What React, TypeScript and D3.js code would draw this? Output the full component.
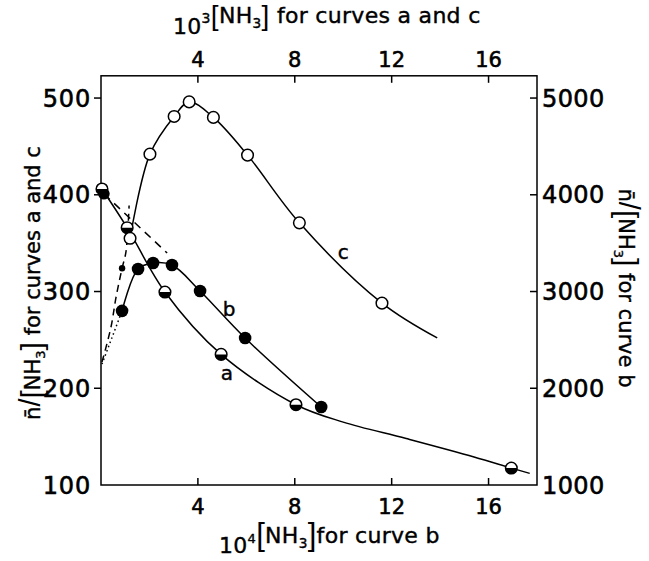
import React from 'react';
import * as d3 from 'd3';

const W = 649;
const H = 561;

// tick values
const topTicks = [4, 8, 12, 16];
const bottomTicks = [4, 8, 12, 16];
const leftTicks = [200, 300, 400, 500];
const leftLabels = [100, 200, 300, 400, 500];
const rightTicks = [2000, 3000, 4000, 5000];
const rightLabels = [1000, 2000, 3000, 4000, 5000];

// curve a (half-filled circles): x = 10^3[NH3], y = n/[NH3] (left axis)
const aPoints: [number, number][] = [
  [0.04, 406], [1.08, 366], [2.64, 299.5], [4.96, 235], [8.05, 183], [16.94, 117.5],
];
const aCurve: [number, number][] = [
  [0.04, 406], [1.08, 366], [2.64, 299.5], [4.96, 235], [8.05, 183],
  [10.0, 165], [12.6, 148], [15.4, 129], [16.94, 117.5], [17.7, 112],
];

// curve c (open circles): x = 10^3[NH3], y = n/[NH3] (left axis)
const cPoints: [number, number][] = [
  [1.2, 355], [2.02, 442], [3.02, 481], [3.64, 496], [4.64, 480],
  [6.05, 441], [8.19, 371], [11.6, 288],
];
const cCurve: [number, number][] = [
  [1.2, 355], [2.02, 442], [3.02, 481], [3.64, 496], [4.64, 480],
  [6.05, 441], [8.19, 371], [11.6, 288], [13.88, 252],
];
// dashed extrapolation near origin (left-axis scale)
const cDashed: [number, number][] = [
  [0.04, 227], [0.41, 263], [0.62, 294], [0.87, 324], [1.03, 341], [1.16, 389],
];
const smallDot: [number, number][] = [[0.87, 324]];

// curve b (filled circles): x = 10^4[NH3], y = n/[NH3] (right axis)
const bPoints: [number, number][] = [
  [0.87, 2800], [1.53, 3233], [2.15, 3295], [2.93, 3274], [4.09, 3005],
  [5.95, 2519], [9.09, 1806],
];
const bIntercept: [number, number][] = [[0.12, 4010]];
const bDashed: [number, number][] = [[0.12, 4010], [2.73, 3398]];
const bDotted: [number, number][] = [[0.04, 2250], [0.87, 2800]];

// curve labels: [x (top/bottom scale), y (left scale)]
const curveLabels: { t: string; x: number; y: number }[] = [
  { t: 'c', x: 10.0, y: 340 },
  { t: 'b', x: 5.29, y: 281 },
  { t: 'a', x: 5.2, y: 215 },
];

const FONT = "'DejaVu Sans', sans-serif";
const BR = "'Liberation Sans', sans-serif";

export default function App() {
  const left = 101, right = 537, top = 75.8, bottom = 485;
  const x = d3.scaleLinear().domain([0, 18]).range([left, right]);
  const yL = d3.scaleLinear().domain([100, 523]).range([bottom, top]);
  const yR = d3.scaleLinear().domain([1000, 5230]).range([bottom, top]);

  const lineL = d3.line<[number, number]>().x(d => x(d[0])).y(d => yL(d[1])).curve(d3.curveCatmullRom.alpha(0.5));
  const lineR = d3.line<[number, number]>().x(d => x(d[0])).y(d => yR(d[1])).curve(d3.curveCatmullRom.alpha(0.5));
  const straightR = d3.line<[number, number]>().x(d => x(d[0])).y(d => yR(d[1]));

  const r = 5.8;
  const sw = 1.5;

  const nh3 = (sz: number, brSz: number, tail: string) => [
    <tspan key="b1" fontFamily={BR} fontSize={brSz} dy={2} strokeWidth={0}>[</tspan>,
    <tspan key="nh" dy={-2}>NH</tspan>,
    <tspan key="s" fontSize={sz * 0.62} dy={5}>3</tspan>,
    <tspan key="b2" fontFamily={BR} fontSize={brSz} dy={-3} strokeWidth={0}>]</tspan>,
    <tspan key="t" dy={-2}>{tail}</tspan>,
  ];

  return (
    <svg width={W} height={H} style={{ display: 'block', position: 'absolute', left: 0, top: 0 }}>
      <rect x={0} y={0} width={W} height={H} fill="white" />
      {/* frame */}
      <rect x={left} y={top} width={right - left} height={bottom - top} fill="none" stroke="black" strokeWidth={sw} />

      {/* ticks */}
      {topTicks.map(t => (
        <line key={'tt' + t} x1={x(t)} x2={x(t)} y1={top} y2={top + 7} stroke="black" strokeWidth={sw} />
      ))}
      {bottomTicks.map(t => (
        <line key={'bt' + t} x1={x(t)} x2={x(t)} y1={bottom} y2={bottom - 7} stroke="black" strokeWidth={sw} />
      ))}
      {leftTicks.map(t => (
        <line key={'lt' + t} x1={left - 7} x2={left} y1={yL(t)} y2={yL(t)} stroke="black" strokeWidth={sw} />
      ))}
      {rightTicks.map(t => (
        <line key={'rt' + t} x1={right - 7} x2={right} y1={yR(t)} y2={yR(t)} stroke="black" strokeWidth={sw} />
      ))}

      {/* tick labels */}
      <g fontFamily={FONT} fill="black" stroke="black" strokeWidth={0.6}>
        {topTicks.map(t => (
          <text key={'tl' + t} x={x(t)} y={67} fontSize={21} textAnchor="middle">{t}</text>
        ))}
        {bottomTicks.map(t => (
          <text key={'bl' + t} x={x(t)} y={514} fontSize={21} textAnchor="middle">{t}</text>
        ))}
        {leftLabels.map(t => (
          <text key={'ll' + t} x={91} y={yL(t) + 8.5} fontSize={24} textAnchor="end" letterSpacing={0.8}>{t}</text>
        ))}
        {rightLabels.map(t => (
          <text key={'rl' + t} x={542} y={yR(t) + 8.5} fontSize={24} textAnchor="start" letterSpacing={0.4}>{t}</text>
        ))}
      </g>

      {/* axis titles */}
      <g fontFamily={FONT} fill="black" stroke="black" strokeWidth={0.4}>
        <text x={173} y={34} fontSize={22} letterSpacing={0.3}>
          <tspan>10</tspan>
          <tspan fontSize={14} dy={-11}>3</tspan>
          <tspan dy={11}></tspan>
          {nh3(22, 28, ' for curves a and c')}
        </text>
        <text x={219} y={553} fontSize={22} letterSpacing={0.3}>
          <tspan>10</tspan>
          <tspan fontSize={13} dy={-10}>4</tspan>
          <tspan dy={10}></tspan>
          {nh3(22, 31, 'for curve b')}
        </text>
        <text transform={`translate(40,283) rotate(-90)`} textAnchor="middle" fontSize={21}>
          <tspan>n̄</tspan>
          <tspan fontFamily={BR} fontSize={29} strokeWidth={0}>/</tspan>
          {nh3(21, 30, ' for curves a and c')}
        </text>
        <text transform={`translate(619,288) rotate(90)`} textAnchor="middle" fontSize={21}>
          <tspan>n̄</tspan>
          <tspan fontFamily={BR} fontSize={29} strokeWidth={0}>/</tspan>
          {nh3(21, 30, ' for curve b')}
        </text>
      </g>

      {/* curves */}
      <path d={lineL(aCurve) || ''} fill="none" stroke="black" strokeWidth={sw} />
      <path d={lineL(cCurve) || ''} fill="none" stroke="black" strokeWidth={sw} />
      <path d={lineR(bPoints) || ''} fill="none" stroke="black" strokeWidth={sw} />
      <path d={lineL(cDashed) || ''} fill="none" stroke="black" strokeWidth={sw} strokeDasharray="7,5" />
      <path d={straightR(bDashed) || ''} fill="none" stroke="black" strokeWidth={sw} strokeDasharray="8,6" />
      <path d={straightR(bDotted) || ''} fill="none" stroke="black" strokeWidth={1.5} strokeDasharray="1.5,3" />

      {/* markers */}
      {bIntercept.map((d, i) => (
        <circle key={'bi' + i} cx={x(d[0])} cy={yR(d[1])} r={r} fill="black" />
      ))}
      {aPoints.map((d, i) => (
        <g key={'a' + i} transform={`translate(${x(d[0])},${yL(d[1])})`}>
          <circle r={r} fill="white" stroke="black" strokeWidth={sw} />
          <path d={`M${-r},0 A${r},${r} 0 0 0 ${r},0 Z`} fill="black" />
        </g>
      ))}
      {cPoints.map((d, i) => (
        <circle key={'c' + i} cx={x(d[0])} cy={yL(d[1])} r={r} fill="white" stroke="black" strokeWidth={sw} />
      ))}
      {bPoints.map((d, i) => (
        <circle key={'b' + i} cx={x(d[0])} cy={yR(d[1])} r={r + 0.5} fill="black" />
      ))}
      {smallDot.map((d, i) => (
        <circle key={'sd' + i} cx={x(d[0])} cy={yL(d[1])} r={3.2} fill="black" />
      ))}

      {/* curve labels */}
      <g fontFamily={FONT} fontSize={20} fill="black" stroke="black" strokeWidth={0.4} textAnchor="middle">
        {curveLabels.map(l => (
          <text key={l.t} x={x(l.x)} y={yL(l.y) + 6}>{l.t}</text>
        ))}
      </g>
    </svg>
  );
}
